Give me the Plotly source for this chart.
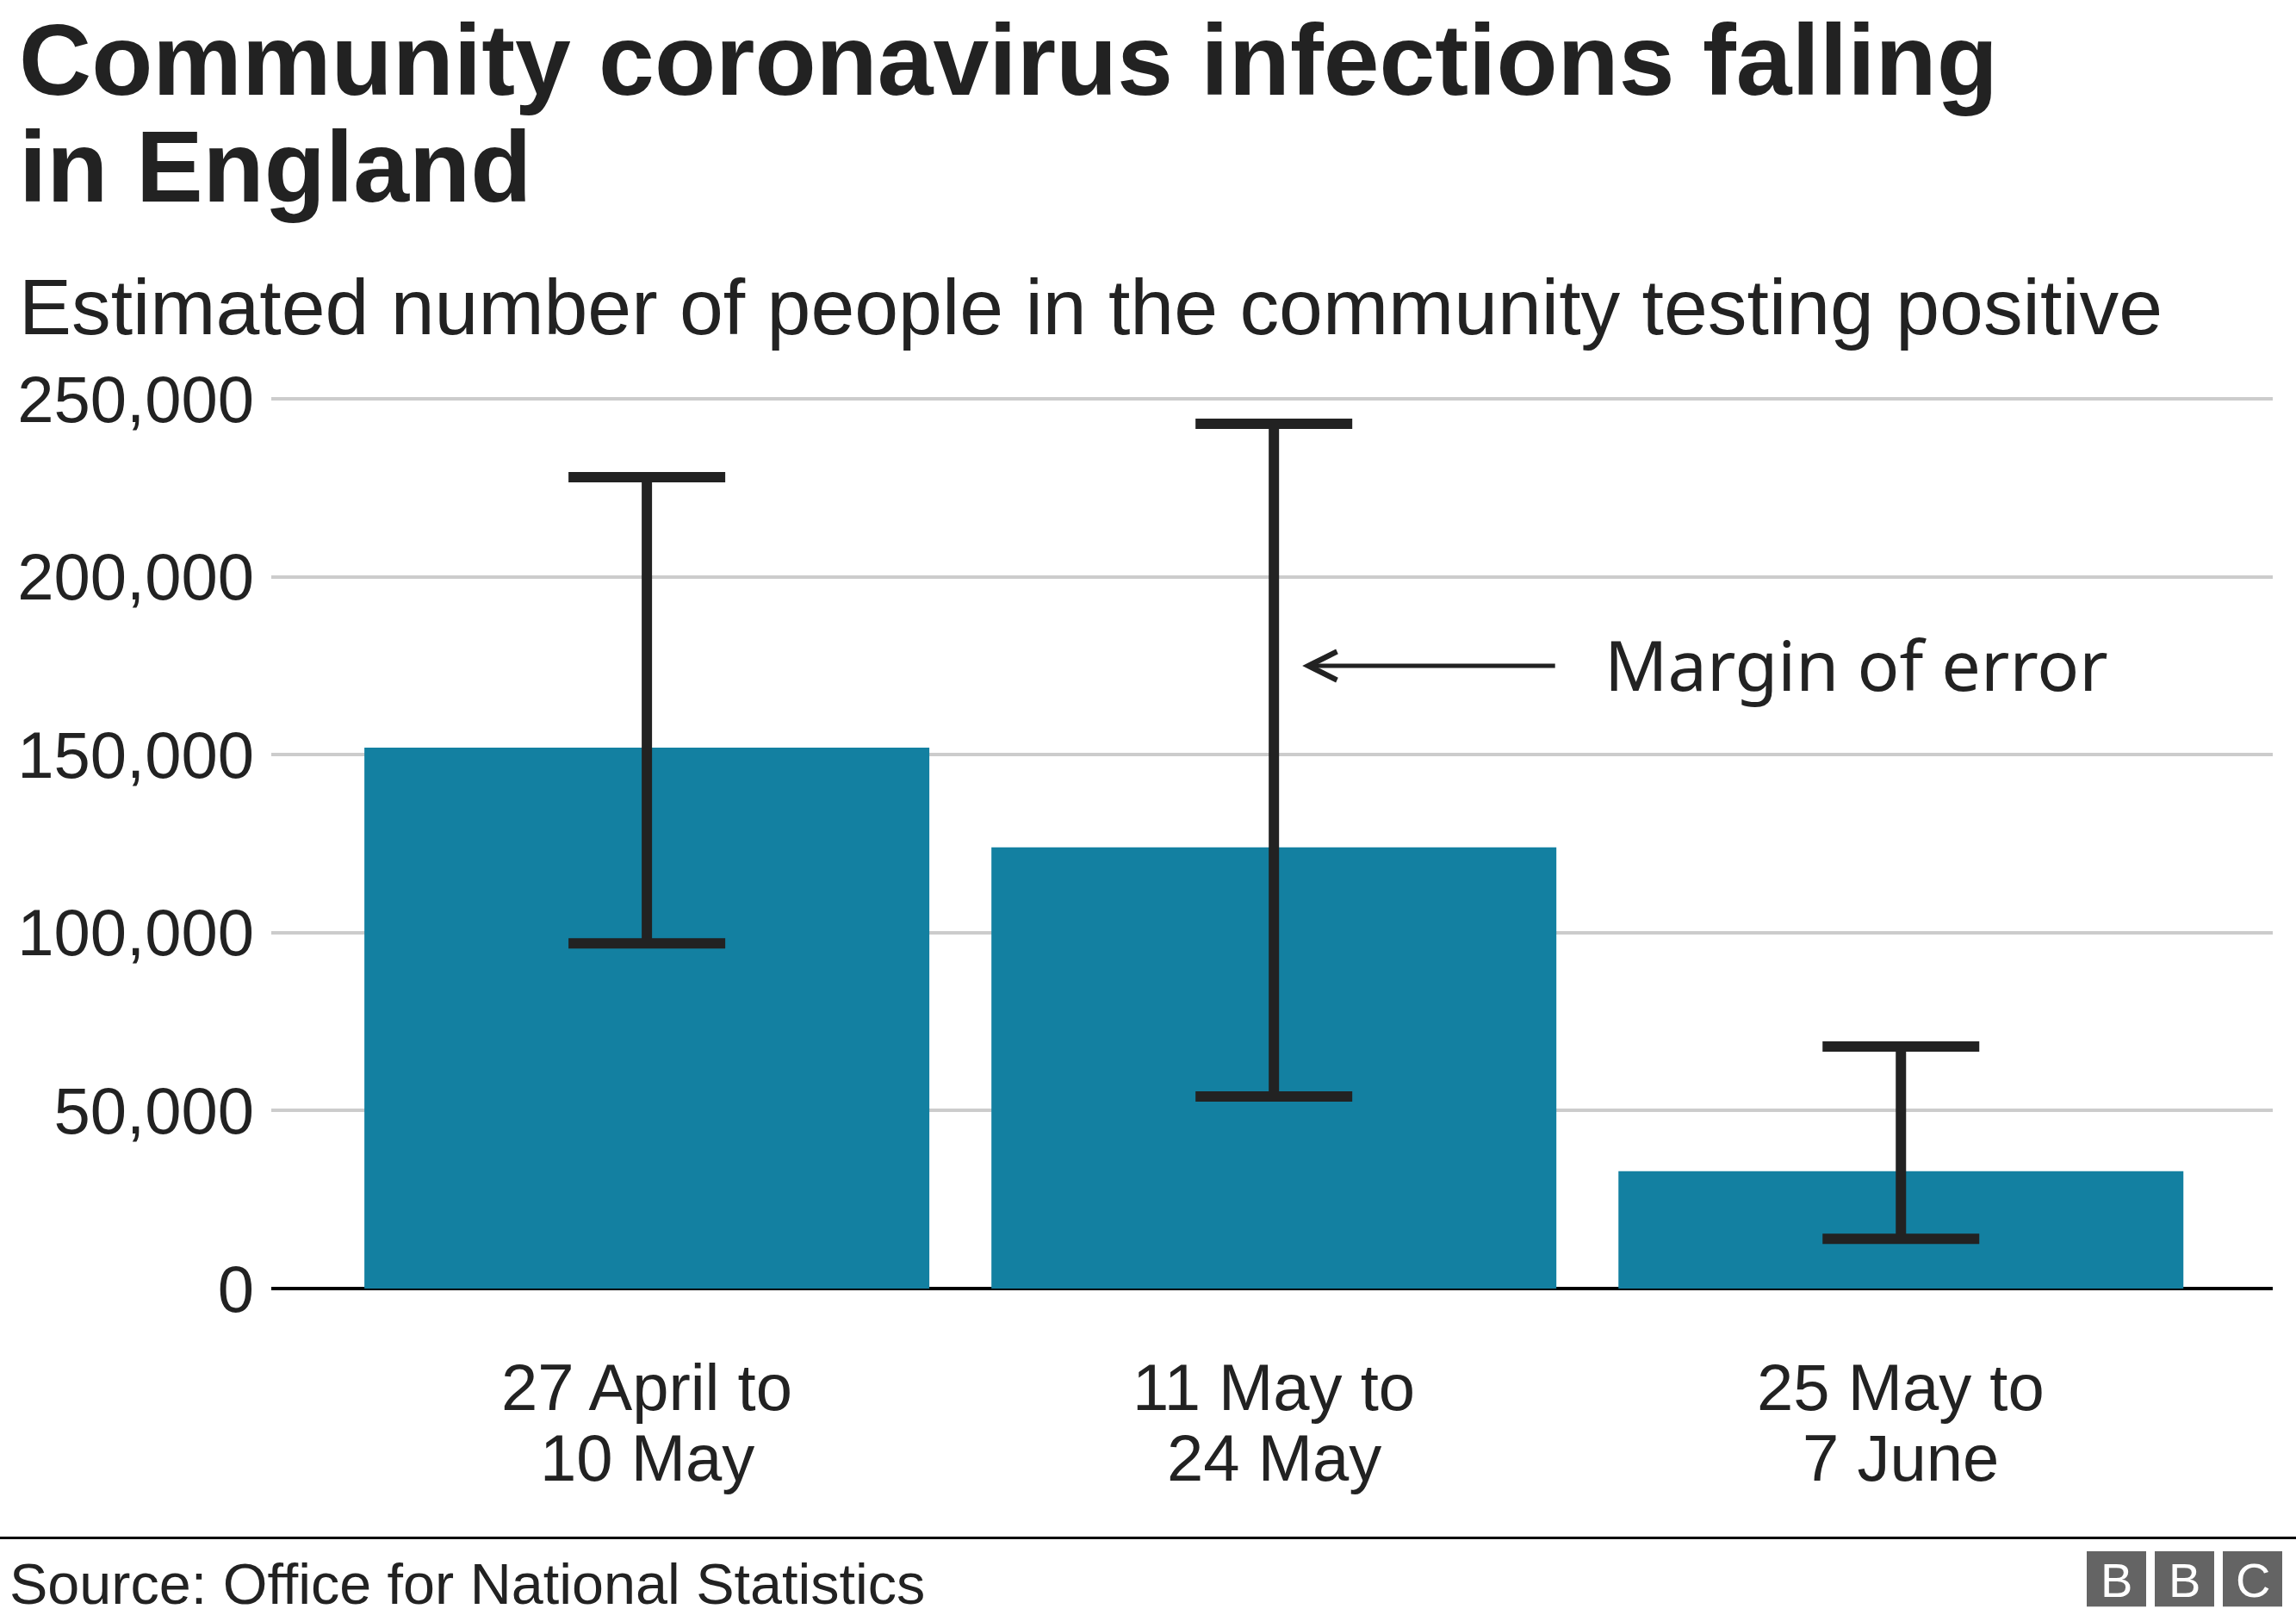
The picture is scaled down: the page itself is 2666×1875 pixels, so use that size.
import plotly.graph_objects as go

# ---- data ----
periods = ["27 April to<br>10 May", "11 May to<br>24 May", "25 May to<br>7 June"]
estimate = [152000, 124000, 33000]
lower_ci = [97000, 54000, 14000]
upper_ci = [228000, 243000, 68000]
y_ticks = [0, 50000, 100000, 150000, 200000, 250000]

title_lines = ["Community coronavirus infections falling", "in England"]
subtitle = "Estimated number of people in the community testing positive"
source = "Source: Office for National Statistics"
note_text = "Margin of error"
note_value = 175000
logo_letters = ["B", "B", "C"]

# ---- layout geometry (pixels) ----
W, H = 2666, 1875
Y_MAX = 251000
PL, PR, PB = 315, 2639, 1496
PT = PB - (PB - 463.5) * Y_MAX / 250000
TEXT = "#222222"
BAR = "#1380A1"


def py(y):
    return (PB - y) / (PB - PT)


def px(x):
    return (x - PL) / (PR - PL)


err_plus = [u - v for u, v in zip(upper_ci, estimate)]
err_minus = [v - l for v, l in zip(estimate, lower_ci)]

fig = go.Figure()
fig.add_trace(go.Bar(
    x=periods, y=estimate,
    marker=dict(color=BAR, line=dict(width=0)),
    error_y=dict(type="data", symmetric=False, array=err_plus, arrayminus=err_minus,
                 color=TEXT, thickness=12, width=91),
    hoverinfo="skip",
))

annotations = []
# title lines (positions given as text box bottoms)
annotations.append(dict(text="<b>%s</b>" % title_lines[0], x=px(20), y=py(137), xref="paper", yref="paper",
                        xanchor="left", yanchor="bottom", showarrow=False,
                        font=dict(family="Liberation Sans", size=116.5, color=TEXT)))
annotations.append(dict(text="<b>%s</b>" % title_lines[1], x=px(20), y=py(261), xref="paper", yref="paper",
                        xanchor="left", yanchor="bottom", showarrow=False,
                        font=dict(family="Liberation Sans", size=116.5, color=TEXT)))
annotations.append(dict(text=subtitle, x=px(20), y=py(409), xref="paper", yref="paper",
                        xanchor="left", yanchor="bottom", showarrow=False,
                        font=dict(family="Liberation Sans", size=91.4, color=TEXT)))
annotations.append(dict(text=source, x=px(9), y=py(1839), xref="paper", yref="paper",
                        xanchor="left", yanchor="middle", showarrow=False,
                        font=dict(family="Liberation Sans", size=66.5, color=TEXT)))

# category labels, two lines each, under the bars
for p in periods:
    first, second = p.split("<br>")
    annotations.append(dict(text=first, x=p, xref="x", y=py(1610), yref="paper",
                            xanchor="center", yanchor="middle", showarrow=False,
                            font=dict(family="Liberation Sans", size=76, color=TEXT)))
    annotations.append(dict(text=second, x=p, xref="x", y=py(1692), yref="paper",
                            xanchor="center", yanchor="middle", showarrow=False,
                            font=dict(family="Liberation Sans", size=76, color=TEXT)))

# margin of error arrow + text (anchored on second bar)
annotations.append(dict(text=" ", x=periods[1], y=note_value, xref="x", yref="y",
                        xshift=33, ax=295, ay=0, showarrow=True,
                        arrowhead=5, arrowwidth=5, arrowsize=1.3, arrowcolor=TEXT,
                        standoff=0, font=dict(size=1)))
annotations.append(dict(text=note_text, x=periods[1], y=note_value, xref="x", yref="y",
                        xshift=382, yshift=2, xanchor="left", yanchor="middle", showarrow=False,
                        font=dict(family="Noto Sans", size=81, color=TEXT)))

shapes = [dict(type="line", xref="paper", yref="paper", x0=px(0), x1=px(W), y0=py(1785.5), y1=py(1785.5),
               line=dict(color="#000000", width=3))]
box_left = [2423, 2502, 2581]
for xl, letter in zip(box_left, logo_letters):
    shapes.append(dict(type="rect", xref="paper", yref="paper", x0=px(xl), x1=px(xl + 69),
                       y0=py(1865), y1=py(1801), fillcolor="#646464", line=dict(width=0)))
    annotations.append(dict(text=letter, x=px(xl + 34.5), y=py(1834), xref="paper", yref="paper",
                            xanchor="center", yanchor="middle", showarrow=False,
                            font=dict(family="Liberation Sans", size=56, color="#ffffff")))

fig.update_layout(
    width=W, height=H,
    margin=dict(l=PL, r=W - PR, t=PT, b=H - PB, pad=0),
    paper_bgcolor="#ffffff", plot_bgcolor="#ffffff",
    showlegend=False,
    bargap=0.099,
    annotations=annotations,
    shapes=shapes,
    font=dict(family="Liberation Sans", color=TEXT),
    xaxis=dict(type="category", range=[-0.599, 2.593], showgrid=False, zeroline=False,
               showline=False, ticks="", showticklabels=False),
    yaxis=dict(range=[0, Y_MAX], tickvals=y_ticks, tickformat=",", showgrid=True,
               gridcolor="#cccccc", gridwidth=4, zeroline=True, zerolinecolor="#000000",
               zerolinewidth=4, showline=False, ticks="", tickfont=dict(size=76, color=TEXT),
               ticklabelstandoff=19),
)

fig.write_html("out.html", config={"displayModeBar": False},
               post_script="document.body.style.margin='0';")
